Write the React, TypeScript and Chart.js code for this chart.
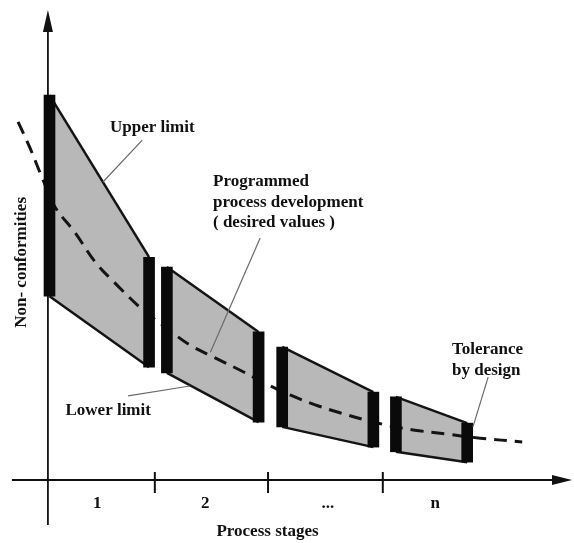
import React, { useEffect, useRef } from 'react';
import { Chart, registerables } from 'chart.js';

Chart.register(...registerables);

// Tolerance bands per process stage (x in arbitrary stage-progress units, y in non-conformity units)
const segStartX = [0.3, 22.7, 44.7, 66.4];
const segEndX = [19.3, 40.2, 62.1, 80.0];
const upperStart = [81.9, 45.3, 28.3, 17.7];
const upperEnd = [47.4, 31.5, 18.7, 12.1];
const lowerStart = [39.1, 22.8, 11.3, 6.0];
const lowerEnd = [24.0, 12.3, 7.0, 3.8];

// Programmed process development (desired values)
const curveX = [-5.7, -3.4, -1.1, 1.35, 5.2, 9.0, 12.8, 18.1, 22.3, 27.1, 31.9, 36.6, 41.4, 46.2, 51.0, 55.7, 60.5, 65.3, 70.0, 75.8, 82.5, 90.5];
const curveY = [76.2, 70.6, 64.3, 58.1, 52.6, 46.4, 41.9, 36.2, 32.6, 28.7, 26.0, 23.4, 20.6, 18.1, 16.0, 14.3, 12.8, 11.5, 10.6, 9.8, 8.9, 8.1];

// Stage axis
const stageBoundaries = [20.4, 42.0, 63.9];
const stageLabels = ['1', '2', '...', 'n'];
const stageLabelX = [9.4, 30.0, 53.4, 73.9];

const xTitle = 'Process stages';
const yTitle = 'Non- conformities';

const annotations = [
  { lines: ['Upper limit'], x: 11.85, y: 74.9, align: 'left', leader: [[18.0, 72.3], [10.5, 63.4]] },
  { lines: ['Programmed', 'process development', '( desired values )'], x: 31.5, y: 63.4, align: 'left', leader: [[40.5, 51.5], [31.0, 27.2]] },
  { lines: ['Lower limit'], x: 11.5, y: 14.7, align: 'center', leader: [[15.3, 17.9], [27.1, 20.0]] },
  { lines: ['Tolerance', 'by design'], x: 77.1, y: 27.7, align: 'left', leader: [[84.0, 21.9], [81.1, 11.3]] },
];

const FONT = 'bold 17px "Liberation Serif", "DejaVu Serif", serif';

export default function App() {
  const ref = useRef<HTMLCanvasElement>(null);

  useEffect(() => {
    const canvas = ref.current;
    if (!canvas) return;

    const datasets: any[] = [];
    for (let i = 0; i < segStartX.length; i++) {
      datasets.push({
        type: 'line',
        label: 'upper' + i,
        data: [{ x: segStartX[i], y: upperStart[i] }, { x: segEndX[i], y: upperEnd[i] }],
        borderColor: '#141414',
        borderWidth: 2.5,
        pointRadius: 0,
        fill: false,
        order: 3,
      });
      datasets.push({
        type: 'line',
        label: 'lower' + i,
        data: [{ x: segStartX[i], y: lowerStart[i] }, { x: segEndX[i], y: lowerEnd[i] }],
        borderColor: '#141414',
        borderWidth: 2.5,
        pointRadius: 0,
        fill: '-1',
        backgroundColor: '#b8b8b8',
        order: 3,
      });
    }
    datasets.push({
      type: 'line',
      label: 'desired',
      data: curveX.map((x, i) => ({ x, y: curveY[i] })),
      borderColor: '#141414',
      borderWidth: 3,
      borderDash: [13, 8],
      pointRadius: 0,
      tension: 0.35,
      fill: false,
      order: 2,
      clip: false,
    });
    const tolBars: any[] = [];
    for (let i = 0; i < segStartX.length; i++) {
      tolBars.push({ x: segStartX[i], y: [lowerStart[i], upperStart[i]] });
      tolBars.push({ x: segEndX[i], y: [lowerEnd[i], upperEnd[i]] });
    }
    datasets.push({
      type: 'bar',
      label: 'tolerance',
      data: tolBars,
      backgroundColor: '#0a0a0a',
      borderWidth: 0,
      barThickness: 11,
      order: 1,
    });

    const decor = {
      id: 'decor',
      beforeDraw(chart: any) {
        const c = chart.ctx;
        c.save();
        c.fillStyle = '#ffffff';
        c.fillRect(0, 0, chart.width, chart.height);
        c.restore();
      },
      beforeDatasetsDraw(chart: any) {
        const c = chart.ctx;
        const xs = chart.scales.x;
        const ys = chart.scales.y;
        const area = chart.chartArea;
        const x0 = xs.getPixelForValue(0);
        const y0 = ys.getPixelForValue(0);
        c.save();
        c.strokeStyle = '#111';
        c.fillStyle = '#111';
        c.lineWidth = 1.8;
        // y axis
        c.beginPath();
        c.moveTo(x0, y0 + 45);
        c.lineTo(x0, area.top + 18);
        c.stroke();
        c.beginPath();
        c.moveTo(x0, area.top);
        c.lineTo(x0 - 5, area.top + 22);
        c.lineTo(x0 + 5, area.top + 22);
        c.closePath();
        c.fill();
        // x axis
        c.beginPath();
        c.moveTo(x0 - 36, y0);
        c.lineTo(area.right - 16, y0);
        c.stroke();
        c.beginPath();
        c.moveTo(area.right, y0);
        c.lineTo(area.right - 20, y0 - 5);
        c.lineTo(area.right - 20, y0 + 5);
        c.closePath();
        c.fill();
        // ticks
        c.lineWidth = 2;
        stageBoundaries.forEach((v) => {
          const px = xs.getPixelForValue(v);
          c.beginPath();
          c.moveTo(px, y0 - 8);
          c.lineTo(px, y0 + 13);
          c.stroke();
        });
        // tick labels
        c.font = FONT;
        c.textAlign = 'center';
        c.textBaseline = 'middle';
        stageLabels.forEach((t, i) => {
          c.fillText(t, xs.getPixelForValue(stageLabelX[i]), y0 + 24);
        });
        // axis titles
        c.fillText(xTitle, xs.getPixelForValue(41.9), y0 + 52);
        c.translate(22, ys.getPixelForValue(46.3));
        c.rotate(-Math.PI / 2);
        c.fillText(yTitle, 0, 0);
        c.restore();
      },
      afterDatasetsDraw(chart: any) {
        const c = chart.ctx;
        const xs = chart.scales.x;
        const ys = chart.scales.y;
        c.save();
        annotations.forEach((a) => {
          c.strokeStyle = '#6a6a6a';
          c.lineWidth = 1.2;
          c.beginPath();
          c.moveTo(xs.getPixelForValue(a.leader[0][0]), ys.getPixelForValue(a.leader[0][1]));
          c.lineTo(xs.getPixelForValue(a.leader[1][0]), ys.getPixelForValue(a.leader[1][1]));
          c.stroke();
          c.fillStyle = '#111';
          c.font = FONT;
          c.textAlign = a.align as CanvasTextAlign;
          c.textBaseline = 'middle';
          a.lines.forEach((ln, j) => {
            c.fillText(ln, xs.getPixelForValue(a.x), ys.getPixelForValue(a.y) + j * 20.5);
          });
        });
        c.restore();
      },
    };

    const chart = new Chart(canvas, {
      type: 'line',
      data: { datasets },
      options: {
        animation: false,
        responsive: false,
        events: [],
        layout: { padding: { left: 6, right: 2, top: 10, bottom: 63 } },
        scales: {
          x: { type: 'linear', min: -8, max: 100, display: false, offset: false },
          y: { type: 'linear', min: 0, max: 100, display: false },
        },
        plugins: {
          legend: { display: false },
          tooltip: { enabled: false },
          filler: { drawTime: 'beforeDatasetsDraw' },
        } as any,
      },
      plugins: [decor],
    });
    return () => chart.destroy();
  }, []);

  return (
    <div style={{ position: 'absolute', left: 0, top: 0, width: 574, height: 543 }}>
      <canvas ref={ref} width={574} height={543} />
    </div>
  );
}
